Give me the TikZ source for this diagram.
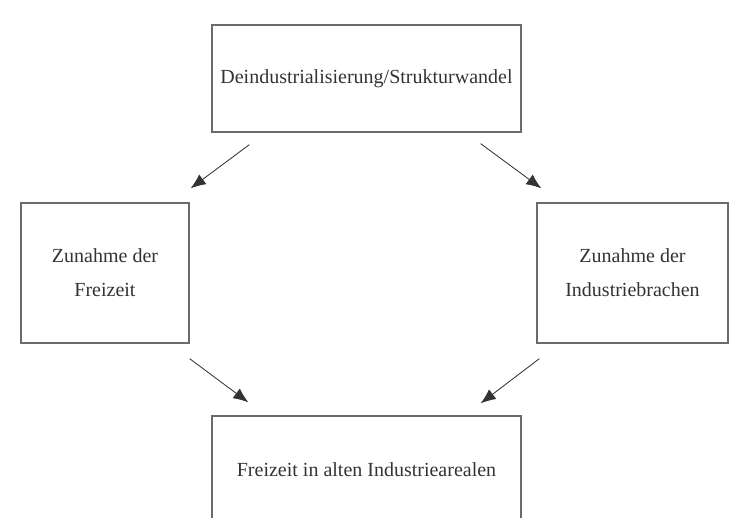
\documentclass[tikz,border=0pt]{standalone}
\usepackage{fontspec}
\setmainfont{Liberation Serif}
\usepackage{tikz}
\usetikzlibrary{
  % bigger arrow tips
  arrows.meta,%
  positioning
}
\definecolor{boxgray}{rgb}{0.42, 0.42, 0.42}
\definecolor{txtgray}{rgb}{0.2, 0.2, 0.2}
\tikzset{>={Latex[length=15pt, width=12pt]}}
\tikzset{font=\fontsize{20}{34}\selectfont}
\tikzset{stage/.style={draw=boxgray, line width=1.4pt, inner sep=0pt,
    align=center, text=txtgray}}
\tikzset{arr/.style={->, draw=txtgray, line width=0.8pt, fill=txtgray}}

\begin{document}
\begin{tikzpicture}[x=1pt, y=1pt]
        \useasboundingbox (0, 0) rectangle (738, 517); %
        \clip (0, 0) rectangle (738, 517); %
        \node[stage, minimum width=309pt, minimum height=107pt] (wandel) at (366.5, 438.5)
        {Deindustrialisierung/Strukturwandel}; %
        \node[stage, minimum width=168pt, minimum height=140pt] (freizeit) at (105, 244)
        {Zunahme der\\Freizeit}; %
        \node[stage, minimum width=191pt, minimum height=140pt] (brachen) at (632.5, 244)
        {Zunahme der\\Industriebrachen}; %
        \node[stage, minimum width=309pt, minimum height=107pt] (areale) at (366.5, 47.5)
        {Freizeit in alten Industriearealen}; %
        % arrows float between the boxes
        \draw[arr] ([shift={(38, -12)}]wandel.south west) --
        ([shift={(1, 14)}]freizeit.north east); %
        \draw[arr] ([shift={(-41, -11)}]wandel.south east) --
        ([shift={(5, 14)}]brachen.north west); %
        \draw[arr] ([shift={(0, -15)}]freizeit.south east) --
        ([shift={(37, 13)}]areale.north west); %
        \draw[arr] ([shift={(3, -15)}]brachen.south west) --
        ([shift={(-41, 12)}]areale.north east); %
      \end{tikzpicture}
\end{document}
